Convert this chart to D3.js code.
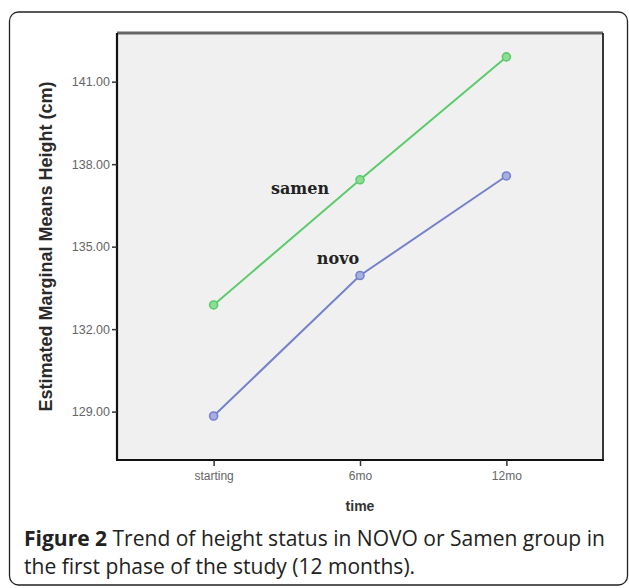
<!DOCTYPE html>
<html>
<head>
<meta charset="utf-8">
<script src="https://cdn.jsdelivr.net/npm/d3@7"></script>
<style>
  html, body { margin: 0; padding: 0; background: #fff; }
  svg { display: block; }
</style>
</head>
<body>
<svg id="chart" width="629" height="588"></svg>
<script>
// ---- data ----
const categories = ["starting", "6mo", "12mo"];
const samenValues = [132.88, 137.43, 141.9];
const novoValues = [128.84, 133.95, 137.57];
const yTicks = [129, 132, 135, 138, 141];
const seriesNames = ["samen", "novo"];
const yTitle = "Estimated Marginal Means Height (cm)";
const xTitle = "time";
const captionBold = "Figure 2";
const captionLine1 = " Trend of height status in NOVO or Samen group in";
const captionLine2 = "the first phase of the study (12 months).";

const svg = d3.select("#chart");

// outer rounded panel
svg.append("rect")
  .attr("x", 9.5).attr("y", 12).attr("width", 618).attr("height", 573)
  .attr("rx", 9).attr("ry", 9)
  .attr("fill", "#fff").attr("stroke", "#222").attr("stroke-width", 1.3);

const plot = { left: 117, top: 33, right: 603, bottom: 460 };

const x = d3.scalePoint().domain(categories)
  .range([plot.left, plot.right]).padding(0.66);
const y = d3.scaleLinear().domain([127.24, 142.77])
  .range([plot.bottom, plot.top]);

// plot background
svg.append("rect")
  .attr("x", plot.left).attr("y", plot.top)
  .attr("width", plot.right - plot.left).attr("height", plot.bottom - plot.top)
  .attr("fill", "#f0f0f0");

// frame
const frame = svg.append("g");
frame.append("line").attr("x1", plot.left).attr("x2", plot.right)
  .attr("y1", plot.top).attr("y2", plot.top)
  .attr("stroke", "#666").attr("stroke-width", 3);
frame.append("line").attr("x1", plot.right).attr("x2", plot.right)
  .attr("y1", plot.top).attr("y2", plot.bottom)
  .attr("stroke", "#222").attr("stroke-width", 1.8);

// axes
const yAxis = d3.axisLeft(y).tickValues(yTicks)
  .tickFormat(d3.format(".2f")).tickSize(5).tickPadding(2);
const gy = svg.append("g").attr("transform", `translate(${plot.left},0)`).call(yAxis);
gy.select(".domain").attr("stroke", "#111").attr("stroke-width", 2.2)
  .attr("d", `M0,${plot.top}V${plot.bottom}`);
gy.selectAll(".tick line").attr("stroke", "#333").attr("stroke-width", 1.5);
gy.selectAll(".tick text").attr("fill", "#666")
  .style("font-family", "'Liberation Sans', Arial, sans-serif")
  .style("font-size", "12.5px");

const xAxis = d3.axisBottom(x).tickSize(6).tickPadding(5);
const gx = svg.append("g").attr("transform", `translate(0,${plot.bottom})`).call(xAxis);
gx.select(".domain").attr("stroke", "#111").attr("stroke-width", 2.2)
  .attr("d", `M${plot.left - 1},0H${plot.right + 1}`);
gx.selectAll(".tick line").attr("stroke", "#333").attr("stroke-width", 1.5);
gx.selectAll(".tick text").attr("fill", "#666")
  .style("font-family", "'Liberation Sans', Arial, sans-serif")
  .style("font-size", "12px");

// axis titles
svg.append("text")
  .attr("transform", `translate(52,${(80 + 413) / 2}) rotate(-90)`)
  .attr("text-anchor", "middle")
  .attr("fill", "#2a2a2a")
  .style("font-family", "'Liberation Sans', Arial, sans-serif")
  .style("font-weight", "bold").style("font-size", "18px")
  .text(yTitle);

svg.append("text")
  .attr("x", x(categories[1])).attr("y", 511)
  .attr("text-anchor", "middle").attr("fill", "#333")
  .style("font-family", "'Liberation Sans', Arial, sans-serif")
  .style("font-weight", "bold").style("font-size", "14px")
  .text(xTitle);

// series
const series = [
  { name: seriesNames[0], values: samenValues, color: "#5ccb6b", fill: "#8fdc98" },
  { name: seriesNames[1], values: novoValues, color: "#7482cc", fill: "#a6afe0" }
];
const line = d3.line().x((d, i) => x(categories[i])).y(d => y(d));
series.forEach(s => {
  svg.append("path").datum(s.values)
    .attr("d", line).attr("fill", "none")
    .attr("stroke", s.color).attr("stroke-width", 2);
  svg.selectAll(null).data(s.values).enter().append("circle")
    .attr("cx", (d, i) => x(categories[i])).attr("cy", d => y(d))
    .attr("r", 4).attr("fill", s.fill)
    .attr("stroke", s.color).attr("stroke-width", 1.6);
});

// series labels
const labelStyle = sel => sel
  .attr("fill", "#222")
  .style("font-family", "'DejaVu Serif', serif")
  .style("font-weight", "bold")
  .style("font-size", "16px");
svg.append("text").attr("x", 300).attr("y", y(samenValues[1]) + 14)
  .attr("text-anchor", "middle").call(labelStyle).text(seriesNames[0]);
svg.append("text").attr("x", x(categories[1]) - 22).attr("y", y(novoValues[1]) - 12)
  .attr("text-anchor", "middle").call(labelStyle).text(seriesNames[1]);

// caption
const cap = svg.append("g")
  .style("font-family", "'Open Sans', 'Noto Sans', sans-serif")
  .style("font-size", "20px").attr("fill", "#222");
const t1 = cap.append("text").attr("x", 24).attr("y", 546);
t1.append("tspan").style("font-weight", "bold").text(captionBold);
t1.append("tspan").text(captionLine1);
const t2 = cap.append("text").attr("x", 24).attr("y", 574).text(captionLine2);
// fit the caption to the width of the reference text block
const w = t1.node().getComputedTextLength();
const fs = 20 * 581 / w;
cap.style("font-size", fs + "px");
</script>
</body>
</html>
